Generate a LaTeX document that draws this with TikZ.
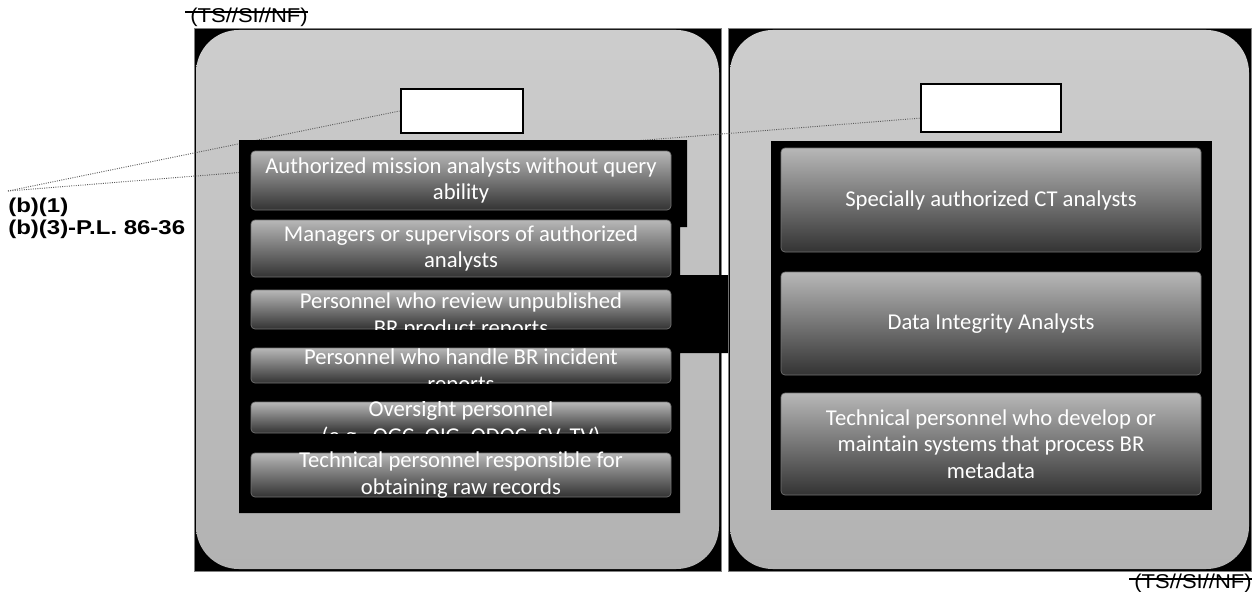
\documentclass[tikz,border=0pt]{standalone}
\usepackage{fontspec}
\usepackage{graphicx}
\setmainfont{Carlito}
\newfontfamily\arialfont{Liberation Sans}
\usetikzlibrary{calc}
\definecolor{panellight}{RGB}{205,205,205}
\definecolor{paneldark}{RGB}{178,178,178}
\newcommand\mkbox[6]{%
  \node[itembox, minimum width={(#4-#2)*0.75pt}, minimum height={(#5-#3)*0.75pt}] (#1) at ({(#2+#4)/2},{(#3+#5)/2}) {};
  \node[itemtext] (#1t) at (#1.center) {#6};}
\newcommand\mkclipbox[7]{%
  \node[itembox, minimum width={(#4-#2)*0.75pt}, minimum height={(#5-#3)*0.75pt}] (#1) at ({(#2+#4)/2},{(#3+#5)/2}) {};
  \begin{scope}
    \clip (#1.north west) rectangle (#1.south east);
    \node[itemtext] (#1t) at ({(#2+#4)/2},#6) {#7};
  \end{scope}}
\begin{document}
\begin{tikzpicture}[x=0.75pt,y=-0.75pt,
  itembox/.style={draw=black!55, line width=0.5pt, rounded corners=3pt, top color=black!28, middle color=black!70, bottom color=black!80, inner sep=0pt},
  itemtext/.style={text=white, font=\fontsize{17}{20}\selectfont, align=center, inner sep=0pt},
  wbox/.style={draw=black, line width=2.2pt, fill=white, inner sep=0pt},
  redact/.style={font=\arialfont\bfseries\fontsize{15}{18}\selectfont, anchor=west, inner sep=0pt},
  classif/.style={font=\arialfont\fontsize{15}{17}\selectfont, inner sep=0pt},
  leader/.style={black!65, densely dotted, line width=0.7pt},
  panel/.style={draw=none, rounded corners=32pt, top color=panellight, bottom color=paneldark, inner sep=0pt}
]
\useasboundingbox (0,0) rectangle (1252,592);
\fill[white] (0,0) rectangle (1252,592);

% panel backgrounds
\filldraw[fill=black, draw=black!50, line width=0.5pt] (194,28) rectangle (721,571);
\filldraw[fill=black, draw=black!50, line width=0.5pt] (728,28) rectangle (1251,571);
\node[panel, minimum width={523*0.75pt}, minimum height={539*0.75pt}] (pL) at (457.5,299.5) {};
\node[panel, minimum width={519*0.75pt}, minimum height={539*0.75pt}] (pR) at (989.5,299.5) {};

% white boxes (placed first for leader anchors)
\node[wbox, minimum width={122*0.75pt}, minimum height={44*0.75pt}] (wL) at (462,111) {};
\node[wbox, minimum width={140*0.75pt}, minimum height={48*0.75pt}] (wR) at (991,108) {};

% leaders
\coordinate (lp) at (8,191);
\draw[leader] (lp) -- (wL.west);
\draw[leader] (lp) -- ($(wR.west)!0.4!(wR.south west)$);

% black containers
\fill[black] (239,140) -- (687,140) -- (687,227) -- (680,227) -- (680,275) -- (728,275)
  -- (728,353) -- (680,353) -- (680,513) -- (239,513) -- cycle;
\fill[black] (771,141) rectangle (1212,510);

% redraw white boxes on top
\node[wbox, minimum width={122*0.75pt}, minimum height={44*0.75pt}] (wL2) at (wL) {};
\node[wbox, minimum width={140*0.75pt}, minimum height={48*0.75pt}] (wR2) at (wR) {};

% left items
\mkbox{b1}{251}{151}{671}{210}{Authorized mission analysts without query\\ability}
\mkbox{b2}{251}{220}{671}{277}{Managers or supervisors of authorized\\analysts}
\mkclipbox{b3}{251}{290}{671}{329}{316}{Personnel who review unpublished\\BR product reports}
\mkclipbox{b4}{251}{348}{671}{383}{372}{Personnel who handle BR incident\\reports}
\mkclipbox{b5}{251}{402}{671}{433}{424}{Oversight personnel\\(e.g., OGC, OIG, ODOC, SV, TV)}
\mkbox{b6}{251}{453}{671}{497}{Technical personnel responsible for\\obtaining raw records}

% right items
\mkbox{r1}{781}{148}{1201}{252}{Specially authorized CT analysts}
\mkbox{r2}{781}{272}{1201}{375}{Data Integrity Analysts}
\mkbox{r3}{781}{393}{1201}{495}{Technical personnel who develop or\\maintain systems that process BR\\metadata}

% redaction labels
\node[redact] (rb1) at (8,207) {\scalebox{1.2}[1]{(b)(1)}};
\node[redact] (rb3) at (8,229) {\scalebox{1.2}[1]{(b)(3)-P.L. 86-36}};

% classification marks
\node[classif] (cTop) at (249,17) {\scalebox{1.1}[1]{(TS//SI//NF)}};
\draw[line width=1pt] ($(cTop.west)+(-5,-5)$) -- ($(cTop.east)+(0,-5)$);
\node[classif] (cBot) at (1193,583) {\scalebox{1.1}[1]{(TS//SI//NF)}};
\draw[line width=1pt] ($(cBot.west)+(-5,-4)$) -- ($(cBot.east)+(0,-4)$);
\end{tikzpicture}
\end{document}
